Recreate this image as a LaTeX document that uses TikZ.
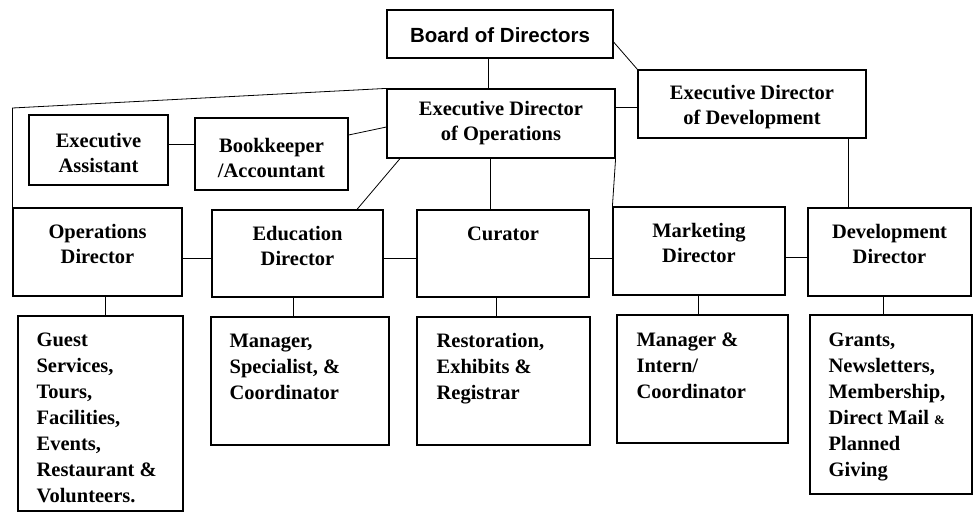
\documentclass[tikz,border=0pt]{standalone}
\usepackage{fontspec}
\setmainfont{Liberation Serif}
\newfontfamily\boardfont{Liberation Sans}
\usetikzlibrary{fit,calc}
\begin{document}
\begin{tikzpicture}[x=1pt,y=-1pt,
  box/.style={draw=black,line width=1.2pt,inner sep=0pt},
  link/.style={draw=black,line width=0.8pt},
  ctxt/.style={inner sep=0pt,align=center,font=\fontsize{20.5}{25}\selectfont\bfseries},
  dtxt/.style={ctxt,anchor=north},
  ltxt/.style={inner sep=0pt,align=left,anchor=north west,font=\fontsize{20.5}{26}\selectfont\bfseries}]
\useasboundingbox[fill=white] (0,0) rectangle (974,512);
% top level boxes
\node[box, fit={(387,10) (613,58)}] (board) {};
\node[ctxt, font=\boardfont\fontsize{20.5}{24}\selectfont\bfseries] (tboard) at ($(board.center)+(0,1)$) {Board of Directors};
\node[box, fit={(387,89) (615,158)}] (ops) {};
\node[ctxt] (tops) at (ops.center) {Executive Director\\of Operations};
\node[box, fit={(638,70) (866,138)}] (dev) {};
\node[ctxt] (tdev) at ($(dev.center)+(0,3)$) {Executive Director\\of Development};
\node[box, fit={(29,115) (168,185)}] (ea) {};
\node[ctxt] (tea) at ($(ea.center)+(0,3)$) {Executive\\Assistant};
\node[box, fit={(195,118) (348,190)}] (bk) {};
\node[ctxt] (tbk) at ($(bk.center)+(0,4)$) {Bookkeeper\\/Accountant};
% directors
\node[box, fit={(13,208) (182,296)}] (opsd) {};
\node[dtxt] (topsd) at ($(opsd.north)+(0,17)$) {Operations\\Director};
\node[box, fit={(212,210) (383,297)}] (edud) {};
\node[dtxt] (tedud) at ($(edud.north)+(0,17)$) {Education\\Director};
\node[box, fit={(417,210) (589,297)}] (cur) {};
\node[dtxt] (tcur) at ($(cur.north)+(0,17)$) {Curator};
\node[box, fit={(613,207) (785,295)}] (mkt) {};
\node[dtxt] (tmkt) at ($(mkt.north)+(0,17)$) {Marketing\\Director};
\node[box, fit={(808,208) (971,296)}] (devd) {};
\node[dtxt] (tdevd) at ($(devd.north)+(0,17)$) {Development\\Director};
% sub boxes
\node[box, fit={(18,316) (183,511)}] (opss) {};
\node[ltxt] (topss) at ($(opss.north west)+(19,17)$) {Guest\\Services,\\Tours,\\Facilities,\\Events,\\Restaurant \&\\Volunteers.};
\node[box, fit={(211,317) (389,445)}] (edus) {};
\node[ltxt] (tedus) at ($(edus.north west)+(19,17)$) {Manager,\\Specialist, \&\\Coordinator};
\node[box, fit={(417,317) (590,445)}] (curs) {};
\node[ltxt] (tcurs) at ($(curs.north west)+(20,17)$) {Restoration,\\Exhibits \&\\Registrar};
\node[box, fit={(617,315) (788,443)}] (mkts) {};
\node[ltxt] (tmkts) at ($(mkts.north west)+(20,18)$) {Manager \&\\Intern/\\Coordinator};
\node[box, fit={(810,315) (972,494)}] (devs) {};
\node[ltxt] (tdevs) at ($(devs.north west)+(19,18)$) {Grants,\\Newsletters,\\Membership,\\Direct Mail {\fontsize{13}{13}\selectfont\&}\\Planned\\Giving};
% connectors
\draw[link] (board.south -| 488,0) -- (ops.north -| 488,0);
\draw[link] (board.east |- 0,42) -- (dev.north west);
\draw[link] (ops.east |- 0,107) -- (dev.west |- 0,107);
\draw[link] (ops.north west) -- (opsd.north west |- 0,108) -- (opsd.north west);
\draw[link] (ea.east |- 0,144) -- (bk.west |- 0,144);
\draw[link] (bk.east |- 0,135) -- (ops.west |- 0,127);
\draw[link] (ops.south -| 400,0) -- (edud.north -| 357,0);
\draw[link] (ops.south -| 490,0) -- (cur.north -| 490,0);
\draw[link] (ops.south east) -- (mkt.north west);
\draw[link] (dev.south -| 848,0) -- (devd.north -| 848,0);
\draw[link] (opsd.east |- 0,258) -- (edud.west |- 0,258);
\draw[link] (edud.east |- 0,258) -- (cur.west |- 0,258);
\draw[link] (cur.east |- 0,258) -- (mkt.west |- 0,258);
\draw[link] (mkt.east |- 0,257) -- (devd.west |- 0,257);
\draw[link] (opsd.south -| 105,0) -- (opss.north -| 105,0);
\draw[link] (edud.south -| 293,0) -- (edus.north -| 293,0);
\draw[link] (cur.south -| 496,0) -- (curs.north -| 496,0);
\draw[link] (mkt.south -| 698,0) -- (mkts.north -| 698,0);
\draw[link] (devd.south -| 883,0) -- (devs.north -| 883,0);
\end{tikzpicture}
\end{document}
